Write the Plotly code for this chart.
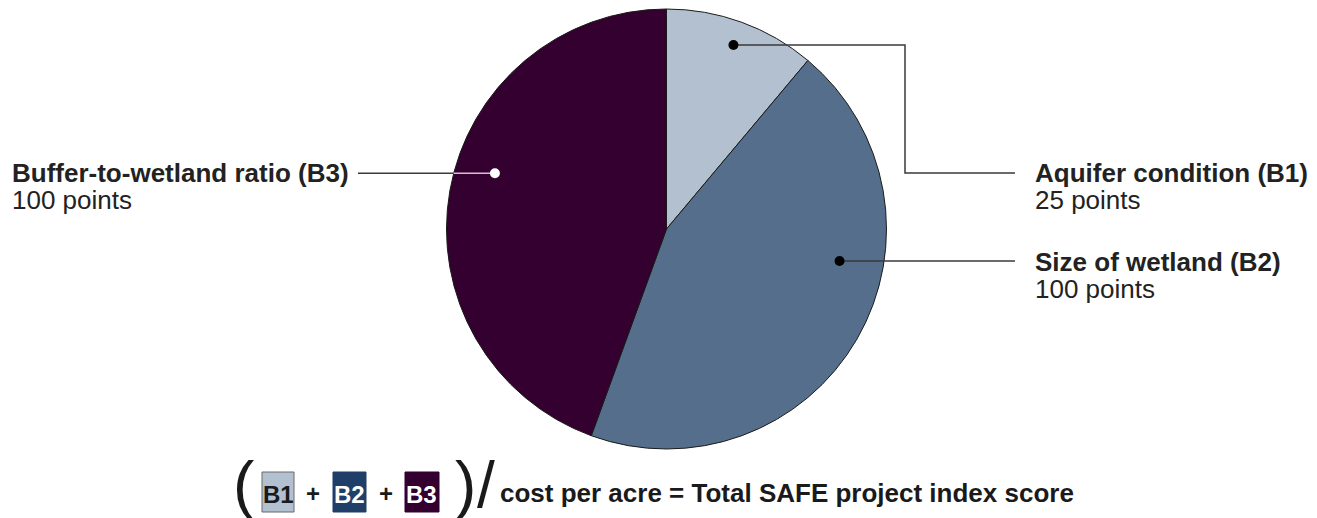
import math
import plotly.graph_objects as go

W, H = 1317, 518

# Scoring components of the SAFE project index
codes = ["B1", "B2", "B3"]
names = ["Aquifer condition", "Size of wetland", "Buffer-to-wetland ratio"]
points = [25, 100, 100]
slice_colors = ["#b3c0cf", "#546e8b", "#33002f"]
box_colors = ["#b3c0cf", "#1f3f68", "#33002f"]
box_text_colors = ["#1a1a1a", "#ffffff", "#ffffff"]
formula_tail = "cost per acre = Total SAFE project index score"

FONT = "Arial, Liberation Sans, Helvetica, sans-serif"
TXT = "#222222"
LINE = "#3a3a3a"

# pie geometry in pixels
cx, cy, R = 666.5, 229, 220


def px(x):
    return x / W


def py(y):
    return 1 - y / H


fig = go.Figure()
fig.add_trace(go.Pie(
    labels=[f"{n} ({c})" for n, c in zip(names, codes)],
    values=points,
    sort=False,
    direction="clockwise",
    rotation=0,
    textinfo="none",
    hoverinfo="label+value",
    marker=dict(colors=slice_colors, line=dict(color="#1a1a1a", width=1)),
    domain=dict(x=[px(cx - R), px(cx + R)], y=[py(cy + R), py(cy - R)]),
    showlegend=False,
))

total = sum(points)
starts = [sum(points[:i]) / total * 360 for i in range(len(points))]
mids = [s + p / total * 180 for s, p in zip(starts, points)]


def polar(angle_deg, frac):
    a = math.radians(angle_deg)
    return cx + frac * R * math.sin(a), cy - frac * R * math.cos(a)


# dot anchors: angle clockwise from 12 o'clock, fraction of radius
dot_pos = [polar(mids[0], 0.89), polar(100.5, 0.80), polar(288.0, 0.82)]

shapes = []
annotations = []


def seg(path_pts, color=LINE, width=1.5):
    d = "M " + " L ".join(f"{px(x)},{py(y)}" for x, y in path_pts)
    shapes.append(dict(type="path", path=d, xref="paper", yref="paper",
                       line=dict(color=color, width=width)))


def dot(x, y, color, r=5):
    shapes.append(dict(type="circle", xref="paper", yref="paper",
                       x0=px(x - r), x1=px(x + r), y0=py(y + r), y1=py(y - r),
                       fillcolor=color, line=dict(width=0)))


def text(x, y, s, size, bold=False, color=TXT, xanchor="left", family=FONT):
    if bold:
        s = f"<b>{s}</b>"
    annotations.append(dict(text=s, x=px(x), y=py(y), xref="paper", yref="paper",
                            xanchor=xanchor, yanchor="middle", showarrow=False,
                            font=dict(family=family, size=size, color=color)))


# B1 leader: elbow connector
b1x, b1y = dot_pos[0]
seg([(b1x, b1y), (905, b1y), (905, 173), (1015, 173)])
dot(b1x, b1y, "#000000")

# B2 leader
b2x, b2y = dot_pos[1]
seg([(b2x, b2y), (1015, b2y)])
dot(b2x, b2y, "#000000")

# B3 leader: dark outside the pie, light inside the dark slice
b3x, b3y = dot_pos[2]
edge_x = cx - math.sqrt(R ** 2 - (b3y - cy) ** 2)
seg([(358, b3y), (edge_x, b3y)])
seg([(edge_x, b3y), (b3x, b3y)], color="#d9bcd5")
dot(b3x, b3y, "#ffffff")

# labels
LBL = 26
GAP = 27
text(1033, 173, f"{names[0]} ({codes[0]})", LBL, bold=True)
text(1033, 173 + GAP, f"{points[0]} points", LBL)
text(1033, b2y + 1, f"{names[1]} ({codes[1]})", LBL, bold=True)
text(1033, b2y + 1 + GAP, f"{points[1]} points", LBL)
text(10, b3y, f"{names[2]} ({codes[2]})", LBL, bold=True)
text(10, b3y + GAP, f"{points[2]} points", LBL)

# formula row
fy = 493
text(243, fy - 8, "(", 64, xanchor="center", color="#1a1a1a")
box_x = [(262, 294), (333, 366), (405, 439)]
for i, (x0, x1) in enumerate(box_x):
    shapes.append(dict(type="rect", xref="paper", yref="paper",
                       x0=px(x0), x1=px(x1), y0=py(512), y1=py(472),
                       fillcolor=box_colors[i],
                       line=dict(color="#6b6b6b" if i == 0 else box_colors[i], width=1)))
    text((x0 + x1) / 2, fy + 1, codes[i], 24, bold=True,
         color=box_text_colors[i], xanchor="center")
text(313, fy, "+", 24, bold=True, xanchor="center", color="#1a1a1a")
text(386, fy, "+", 24, bold=True, xanchor="center", color="#1a1a1a")
text(465, fy - 8, ")", 64, xanchor="center", color="#1a1a1a")
text(486, fy - 8, "/", 64, xanchor="center", color="#1a1a1a")
text(498, fy, formula_tail, 26, bold=True, color="#1a1a1a")

fig.update_layout(
    width=W, height=H,
    margin=dict(l=0, r=0, t=0, b=0),
    paper_bgcolor="#ffffff",
    plot_bgcolor="#ffffff",
    shapes=shapes,
    annotations=annotations,
)

fig.write_html("out.html")
